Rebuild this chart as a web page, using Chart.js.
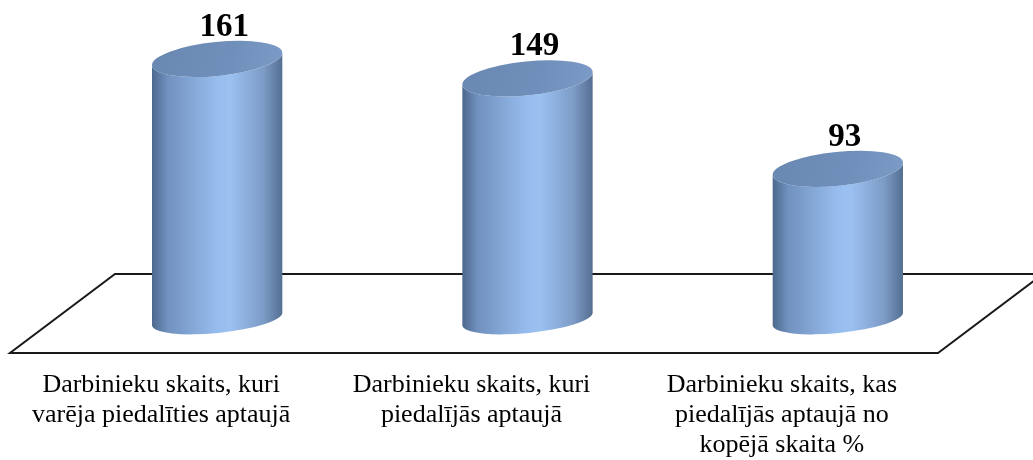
<!DOCTYPE html>
<html>
<head>
<meta charset="utf-8">
<script src="https://cdn.jsdelivr.net/npm/chart.js@4/dist/chart.umd.min.js"></script>
<style>
    html, body { margin: 0; padding: 0; background: #ffffff; }
    #wrap { width: 1033px; height: 460px; position: relative; }
</style>
</head>
<body>
<div id="wrap"><canvas id="my-chart" width="1033" height="460"></canvas></div>
<script>
var categories = [
    ["Darbinieku skaits, kuri", "varēja piedalīties aptaujā"],
    ["Darbinieku skaits, kuri", "piedalījās aptaujā"],
    ["Darbinieku skaits, kas", "piedalījās aptaujā no", "kopējā skaita %"]
];
var values = [161, 149, 93];
var yMin = 0;
var yMax = 200;

// perspective offsets of the 3d floor
var DEPTH_X = 56, DEPTH_Y = -34;
var BACK_X = 105, BACK_Y = -79;

var floorPlugin = {
    id: "floor",
    beforeDatasetsDraw: function (chart) {
        var ctx = chart.ctx;
        var area = chart.chartArea;
        ctx.save();
        ctx.beginPath();
        ctx.moveTo(area.left + 4, area.bottom);
        ctx.lineTo(area.right + 1, area.bottom);
        ctx.lineTo(area.right + 1 + BACK_X, area.bottom + BACK_Y);
        ctx.lineTo(area.left + 4 + BACK_X, area.bottom + BACK_Y);
        ctx.closePath();
        ctx.lineWidth = 2;
        ctx.strokeStyle = "#1a1a1a";
        ctx.stroke();
        ctx.restore();
    }
};

var cylinderPlugin = {
    id: "cylinders",
    afterDatasetsDraw: function (chart) {
        var ctx = chart.ctx;
        var meta = chart.getDatasetMeta(0);
        var rot = -0.1;
        meta.data.forEach(function (bar, i) {
            var cx = bar.x + DEPTH_X;
            var rx = bar.width / 2;
            var topY = bar.y + DEPTH_Y;
            var baseY = bar.base + DEPTH_Y;
            var ryTop = 17, ryBase = 14;
            var c = Math.cos(rot), s = Math.sin(rot);

            ctx.save();
            // body
            var grad = ctx.createLinearGradient(cx - rx, 0, cx + rx, 0);
            grad.addColorStop(0, "#4b678c");
            grad.addColorStop(0.12, "#7191be");
            grad.addColorStop(0.5, "#97bdee");
            grad.addColorStop(0.6, "#9bc1f1");
            grad.addColorStop(0.85, "#7d9cc7");
            grad.addColorStop(1, "#546e91");
            ctx.beginPath();
            ctx.moveTo(cx + rx * c, topY + rx * s);
            ctx.lineTo(cx + rx * c, baseY + rx * s);
            ctx.ellipse(cx, baseY, rx, ryBase, rot, 0, Math.PI, false);
            ctx.lineTo(cx - rx * c, topY - rx * s);
            ctx.ellipse(cx, topY, rx, ryTop, rot, Math.PI, 0, true);
            ctx.closePath();
            ctx.fillStyle = grad;
            ctx.fill();

            // top face
            var tg = ctx.createLinearGradient(cx - rx, topY - ryTop, cx + rx, topY + ryTop);
            tg.addColorStop(0, "#6887b1");
            tg.addColorStop(0.6, "#7090bb");
            tg.addColorStop(1, "#7c9bc6");
            ctx.beginPath();
            ctx.ellipse(cx, topY, rx, ryTop, rot, 0, Math.PI * 2);
            ctx.fillStyle = tg;
            ctx.fill();

            // value label
            ctx.fillStyle = "#000000";
            ctx.font = "bold 33px 'Liberation Serif', 'Times New Roman', serif";
            ctx.textAlign = "center";
            ctx.textBaseline = "alphabetic";
            ctx.fillText(String(values[i]), cx + 7, topY - 23);
            ctx.restore();
        });
    }
};

var config = {
    type: "bar",
    data: {
        labels: categories,
        datasets: [{
            data: values,
            backgroundColor: "rgba(0,0,0,0)",
            borderWidth: 0,
            barPercentage: 0.422,
            categoryPercentage: 1
        }]
    },
    options: {
        responsive: false,
        animation: false,
        layout: {
            padding: { left: 6, right: 96, top: 30, bottom: 0 }
        },
        plugins: {
            legend: { display: false },
            tooltip: { enabled: false }
        },
        scales: {
            x: {
                grid: { display: false, drawTicks: false },
                border: { display: false },
                afterFit: function (scale) {
                    scale.height = 107;
                },
                ticks: {
                    color: "#000000",
                    padding: 17,
                    maxRotation: 0,
                    autoSkip: false,
                    font: { family: "'Liberation Serif', 'Times New Roman', serif", size: 26, lineHeight: 1.15 }
                }
            },
            y: {
                display: false,
                min: yMin,
                max: yMax
            }
        }
    },
    plugins: [floorPlugin, cylinderPlugin]
};

var ctx = document.getElementById("my-chart").getContext("2d");
var myChart = new Chart(ctx, config);
</script>
</body>
</html>
